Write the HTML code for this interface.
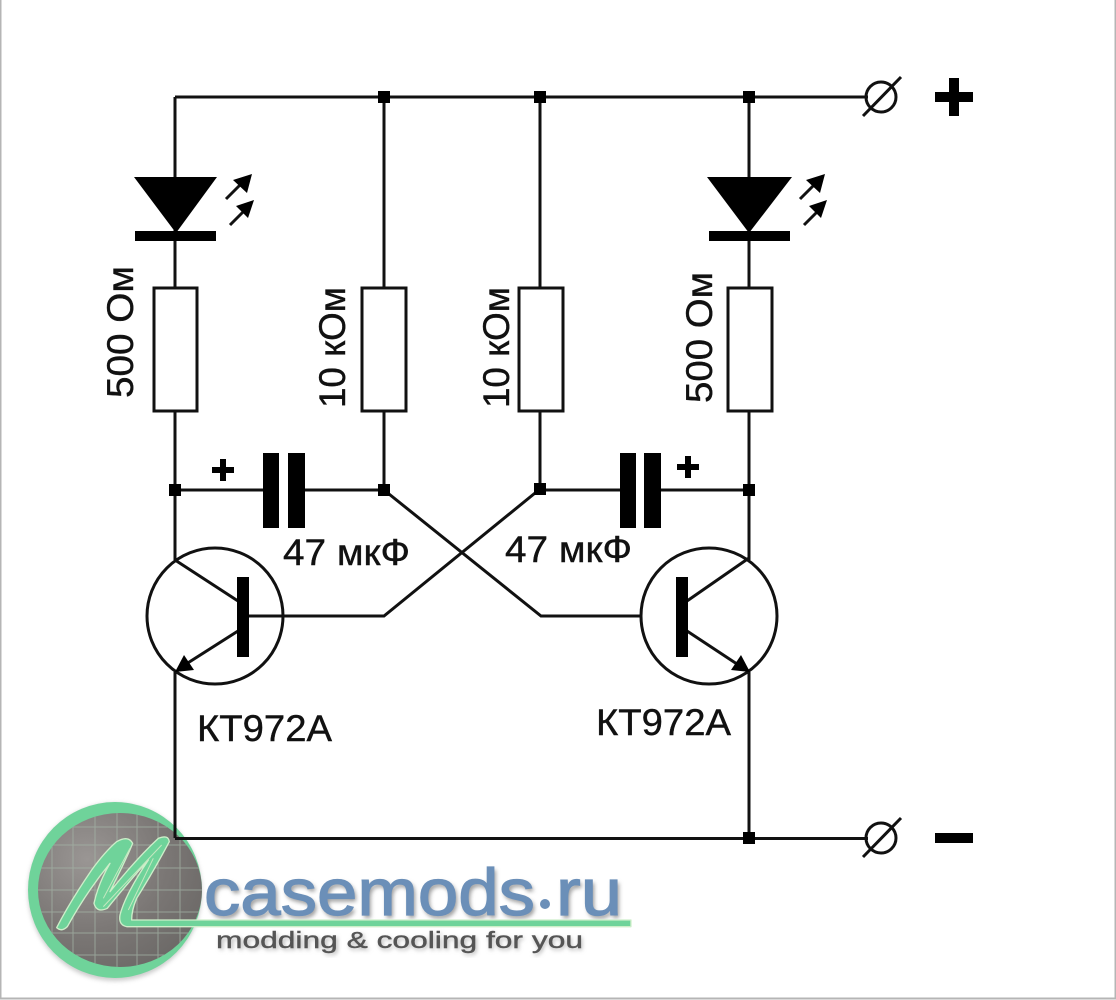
<!DOCTYPE html>
<html><head><meta charset="utf-8"><style>
html,body{margin:0;padding:0;background:#fff}
svg{display:block}
text{font-family:"Liberation Sans",sans-serif}
</style></head><body>
<svg width="1116" height="1000" viewBox="0 0 1116 1000" xmlns="http://www.w3.org/2000/svg">
<defs>
<filter id="b"><feGaussianBlur stdDeviation="2"/></filter>
<filter id="s"><feGaussianBlur stdDeviation="0.6"/></filter>
<radialGradient id="g" cx="0.3" cy="0.3" r="0.8"><stop offset="0" stop-color="#9a9694"/><stop offset="0.6" stop-color="#7b7775"/><stop offset="1" stop-color="#6c6967"/></radialGradient>
<clipPath id="c"><ellipse cx="120" cy="890" rx="82" ry="77"/></clipPath>
</defs>
<rect width="1116" height="1000" fill="#fff"/>
<path d="M0.5 0V998.5H1115.5V0" fill="none" stroke="#b5b5b5" stroke-width="2"/>
<!-- logo -->
<ellipse cx="115" cy="892" rx="87" ry="89" fill="#aaa" filter="url(#b)" opacity=".6"/>
<ellipse cx="115" cy="890" rx="87" ry="88" fill="#6fd39a"/>
<ellipse cx="120" cy="890" rx="82" ry="77" fill="url(#g)"/>
<g clip-path="url(#c)">
<path d="M52 800V980M73 800V980M95 800V980M117 800V980M137 800V980M158 800V980M180 800V980M30 827H210M30 845H210M30 868H210M30 890H210M30 912H210M30 933H210M30 955H210" stroke="#a3b3a6" stroke-width="1" fill="none" opacity=".75"/>
</g>
<g fill="none" stroke="#111" stroke-width="3">
<path d="M175 97H868"/>
<path d="M175 838.5H868"/>
<path d="M175 97V288M175 411V560M175 672V838"/>
<path d="M384 97V288M384 411V490"/>
<path d="M540 97V288M540 411V490"/>
<path d="M749 97V288M749 411V560M749 672V838"/>
<rect x="154" y="288" width="43" height="123"/>
<rect x="362" y="288" width="44" height="123"/>
<rect x="519" y="288" width="44" height="123"/>
<rect x="728" y="288" width="44" height="123"/>
<path d="M175 490H265M305 490H384M540 490H620M661 490H749"/>
<path d="M384 490L541 616H642M540 489L384 616H248"/>
<circle cx="215" cy="616" r="68"/>
<circle cx="709" cy="616" r="68"/>
<path d="M175 560L238 601M238 631L183 666"/>
<path d="M749 558L687 601M687 631L740 666"/>
<circle cx="881" cy="97" r="15"/>
<path d="M863 116L901 77"/>
<circle cx="881" cy="838" r="15"/>
<path d="M863 857L901 818"/>
<path d="M226 199L246 179M230 225L250 205M800 199L820 179M804 225L824 205"/>
</g>
<g fill="#000">
<rect x="378" y="91" width="12" height="12"/><rect x="534" y="91" width="12" height="12"/><rect x="743" y="91" width="12" height="12"/>
<rect x="169" y="484" width="12" height="12"/><rect x="378" y="484" width="12" height="12"/><rect x="534" y="483" width="12" height="12"/><rect x="743" y="484" width="12" height="12"/>
<rect x="743" y="832" width="12" height="12"/>
<path d="M134 177H217L176 233Z"/><rect x="135" y="231" width="81" height="10"/>
<path d="M707 177H792L749 233Z"/><rect x="709" y="231" width="81" height="10"/>
<rect x="263" y="453" width="16" height="75"/><rect x="288" y="453" width="17" height="75"/>
<rect x="620" y="453" width="16" height="75"/><rect x="644" y="453" width="17" height="75"/>
<rect x="237" y="577" width="12" height="80"/><rect x="676" y="577" width="12" height="80"/>
<path d="M175 672L184 655L194 670Z"/><path d="M750 672L741 655L731 670Z"/>
<path d="M252 174L233 180L247 193ZM254 200L236 206L248 218Z"/>
<path d="M825 174L806 180L820 193ZM827 200L809 206L821 218Z"/>
<rect x="935" y="92" width="38" height="10"/><rect x="949" y="78" width="10" height="38"/>
<rect x="935" y="833" width="38" height="10"/>
<rect x="212" y="467" width="22" height="6"/><rect x="220" y="459" width="6" height="22"/>
<rect x="677" y="464" width="22" height="6"/><rect x="685" y="456" width="6" height="22"/>
</g>
<g fill="#111" stroke="#111" stroke-width=".4" font-size="37">
<text transform="translate(133 398) rotate(-90)" textLength="132" lengthAdjust="spacingAndGlyphs">500 Ом</text>
<text transform="translate(345 408) rotate(-90)" textLength="121" lengthAdjust="spacingAndGlyphs">10 кОм</text>
<text transform="translate(509 408) rotate(-90)" textLength="121" lengthAdjust="spacingAndGlyphs">10 кОм</text>
<text transform="translate(712 403) rotate(-90)" textLength="131" lengthAdjust="spacingAndGlyphs">500 Ом</text>
<text x="283" y="565" textLength="127" lengthAdjust="spacingAndGlyphs">47 мкФ</text>
<text x="505" y="562" textLength="127" lengthAdjust="spacingAndGlyphs">47 мкФ</text>
<text x="197" y="741" textLength="135" lengthAdjust="spacingAndGlyphs">КТ972А</text>
<text x="596" y="735" textLength="135" lengthAdjust="spacingAndGlyphs">КТ972А</text>
</g>
<!-- logo text -->
<g font-size="66" fill="#999" filter="url(#b)">
<text x="206" y="918" textLength="331" lengthAdjust="spacingAndGlyphs">casemods</text>
<text x="558" y="918" textLength="66" lengthAdjust="spacingAndGlyphs">ru</text>
</g>
<g font-size="66" fill="#6b8fb8" stroke="#6b8fb8" stroke-width="1.2">
<text x="204" y="915" textLength="331" lengthAdjust="spacingAndGlyphs">casemods</text>
<text x="556" y="915" textLength="66" lengthAdjust="spacingAndGlyphs">ru</text>
</g>
<circle cx="545" cy="904" r="5" fill="#6b8fb8"/>
<path d="M128 927H631" stroke="#999" stroke-width="5" filter="url(#b)" fill="none"/>
<g transform="translate(20 795) scale(.3333)">
<path d="M110 398Q150 320 215 225Q255 170 290 140Q325 120 338 145Q320 190 270 290Q350 190 415 130Q445 118 448 140Q400 230 350 310Q335 345 335 375H1833V395H320Q295 390 300 360Q315 300 385 195Q310 280 262 340Q230 355 222 325Q235 265 270 205Q200 290 142 395Q125 412 110 398Z" fill="#6fd39a" stroke="#cdeec9" stroke-width="4" stroke-linejoin="round"/>
<path d="M250 310L330 160M250 335L425 150M325 345L400 190" fill="none" stroke="#c5e8c0" stroke-width="3"/>
</g>
<g font-size="23.5">
<text x="218" y="950" fill="#aaa" filter="url(#b)" textLength="366" lengthAdjust="spacingAndGlyphs">modding &amp; cooling for you</text>
<text x="216" y="948" fill="#555" stroke="#555" stroke-width=".4" textLength="367" lengthAdjust="spacingAndGlyphs">modding &amp; cooling for you</text>
</g>
</svg>
</body></html>
